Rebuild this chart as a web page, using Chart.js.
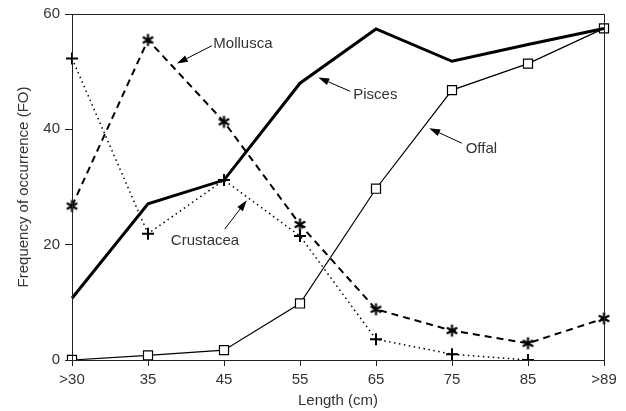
<!DOCTYPE html>
<html>
<head>
<meta charset="utf-8">
<script src="https://cdn.jsdelivr.net/npm/chart.js@4/dist/chart.umd.min.js"></script>
<style>
  html, body { margin: 0; padding: 0; background: #fff; }
  canvas { display: block; }
</style>
</head>
<body>
<canvas id="fo-chart" width="626" height="411"></canvas>
<script>
// ── Data ──────────────────────────────────────────────────────────────────
const lengthClasses = ['>30', '35', '45', '55', '65', '75', '85', '>89'];
const pisces    = [10.7, 27.1, 31.2, 48.0, 57.4, 51.8, 54.7, 57.5];
const offal     = [0, 0.8, 1.7, 9.8, 29.7, 46.8, 51.4, 57.5];
const mollusca  = [26.7, 55.5, 41.3, 23.5, 8.8, 5.1, 2.9, 7.2];
const crustacea = [52.3, 21.9, 31.2, 21.5, 3.6, 1.0, 0, null];

// Callout labels, in data units (x = category index, y = FO)
const callouts = [
    { text: 'Mollusca',  at: [1.86, 54.9], from: [1.84, 54.5], to: [1.38, 51.4] },
    { text: 'Pisces',    at: [3.70, 45.9], from: [3.66, 46.6], to: [3.24, 49.0] },
    { text: 'Offal',     at: [5.18, 36.7], from: [5.13, 37.6], to: [4.70, 40.2] },
    { text: 'Crustacea', at: [1.30, 20.6], from: [2.01, 22.7], to: [2.30, 27.7] },
];

const INK = '#222';
const TEXT = '#333';
const FONT = { family: "'Liberation Sans', Arial, sans-serif", size: 15 };

// ── Marker glyphs ─────────────────────────────────────────────────────────
function asterisk(r, lw) {
    const c = document.createElement('canvas');
    const s = Math.ceil(r * 2 + lw * 2);
    c.width = s;
    c.height = s;
    const ctx = c.getContext('2d');
    ctx.strokeStyle = '#000';
    ctx.lineWidth = lw;
    ctx.translate(s / 2, s / 2);
    for (let k = 0; k < 3; k++) {
        const a = Math.PI / 2 + k * Math.PI / 3;
        ctx.beginPath();
        ctx.moveTo(Math.cos(a) * r, Math.sin(a) * r);
        ctx.lineTo(-Math.cos(a) * r, -Math.sin(a) * r);
        ctx.stroke();
    }
    return c;
}
const starMark = asterisk(6, 2.2);

// ── Plugins ───────────────────────────────────────────────────────────────
const frame = {
    id: 'frame',
    afterDraw(chart) {
        const { ctx, chartArea: a } = chart;
        ctx.save();
        ctx.strokeStyle = INK;
        ctx.lineWidth = 1;
        ctx.strokeRect(a.left + 0.5, a.top + 0.5, a.right - a.left, a.bottom - a.top);
        ctx.restore();
    },
};

const calloutPlugin = {
    id: 'callouts',
    afterDatasetsDraw(chart) {
        const { ctx, scales: { x, y } } = chart;
        const px = (p) => [x.getPixelForValue(p[0]), y.getPixelForValue(p[1])];
        ctx.save();
        ctx.font = `${FONT.size}px ${FONT.family}`;
        ctx.textAlign = 'left';
        ctx.textBaseline = 'middle';
        for (const c of callouts) {
            const [tx, ty] = px(c.at);
            const [fx, fy] = px(c.from);
            const [ex, ey] = px(c.to);
            ctx.fillStyle = TEXT;
            ctx.fillText(c.text, tx, ty);

            const ang = Math.atan2(ey - fy, ex - fx);
            const head = 11, half = 3.5;
            const bx = ex - Math.cos(ang) * head;
            const by = ey - Math.sin(ang) * head;
            ctx.strokeStyle = '#000';
            ctx.lineWidth = 1;
            ctx.beginPath();
            ctx.moveTo(fx, fy);
            ctx.lineTo(bx, by);
            ctx.stroke();
            ctx.fillStyle = '#000';
            ctx.beginPath();
            ctx.moveTo(ex, ey);
            ctx.lineTo(bx - Math.sin(ang) * half, by + Math.cos(ang) * half);
            ctx.lineTo(bx + Math.sin(ang) * half, by - Math.cos(ang) * half);
            ctx.closePath();
            ctx.fill();
        }
        ctx.restore();
    },
};

// ── Chart ─────────────────────────────────────────────────────────────────
new Chart(document.getElementById('fo-chart'), {
    type: 'line',
    data: {
        labels: lengthClasses,
        datasets: [
            {
                label: 'Pisces',
                data: pisces,
                borderColor: '#000',
                borderWidth: 3,
                pointRadius: 0,
                tension: 0,
            },
            {
                label: 'Offal',
                data: offal,
                borderColor: '#000',
                borderWidth: 1.2,
                pointStyle: 'rect',
                pointRadius: 6.4,
                pointBorderWidth: 1.2,
                pointBorderColor: '#000',
                pointBackgroundColor: '#fff',
                tension: 0,
            },
            {
                label: 'Mollusca',
                data: mollusca,
                borderColor: '#000',
                borderWidth: 2,
                borderDash: [7, 5],
                pointStyle: starMark,
                tension: 0,
            },
            {
                label: 'Crustacea',
                data: crustacea,
                borderColor: '#000',
                borderWidth: 1.5,
                borderDash: [1.5, 3.5],
                pointStyle: 'cross',
                pointRadius: 6,
                pointBorderWidth: 2,
                pointBorderColor: '#000',
                spanGaps: false,
                tension: 0,
            },
        ],
    },
    options: {
        responsive: false,
        animation: false,
        devicePixelRatio: 1,
        layout: { padding: { top: 13, right: 22, left: 0, bottom: 0 } },
        plugins: {
            legend: { display: false },
            tooltip: { enabled: false },
        },
        scales: {
            x: {
                offset: false,
                afterFit: (s) => { s.height = 51; },
                grid: { drawOnChartArea: false, tickLength: 6, color: INK },
                border: { color: INK },
                ticks: { color: TEXT, font: FONT, padding: 5, maxRotation: 0 },
                title: {
                    display: true,
                    text: 'Length (cm)',
                    color: TEXT,
                    font: FONT,
                    padding: { top: 0, bottom: 1 },
                },
            },
            y: {
                min: 0,
                max: 60,
                afterFit: (s) => { s.width = 72; },
                grid: { drawOnChartArea: false, tickLength: 7, color: INK },
                border: { color: INK },
                ticks: { stepSize: 20, color: TEXT, font: FONT, padding: 5 },
                title: {
                    display: true,
                    text: 'Frequency of occurrence (FO)',
                    color: TEXT,
                    font: FONT,
                    padding: { top: 15, bottom: 0 },
                },
            },
        },
    },
    plugins: [frame, calloutPlugin],
});
</script>
</body>
</html>
